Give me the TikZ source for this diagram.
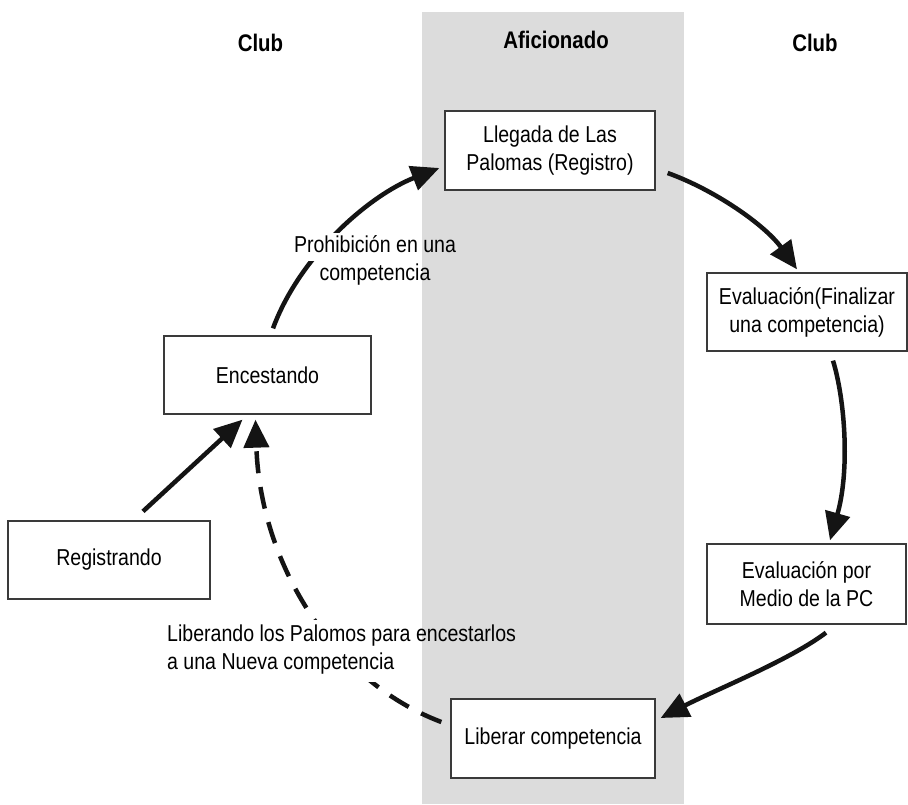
\documentclass[tikz,border=0pt]{standalone}
\usepackage{fontspec}
\setmainfont{Liberation Sans}[FakeStretch=0.85]
\usetikzlibrary{arrows.meta}
\definecolor{band}{HTML}{DCDCDC}
\definecolor{edge}{HTML}{3A3A3A}
\definecolor{ink}{HTML}{141414}
\begin{document}
\begin{tikzpicture}[x=1pt,y=-1pt,
  stage/.style={draw=edge,line width=1.3pt,fill=white,align=center,inner sep=0pt,font=\fontsize{23}{28}\selectfont},
  head/.style={anchor=base,inner sep=0pt,font=\bfseries\fontsize{24}{28}\selectfont},
  lbl/.style={inner sep=0pt,font=\fontsize{23}{28}\selectfont},
  flow/.style={draw=ink,line width=4.5pt,-{Triangle[length=28pt,width=25pt]}},
  backflow/.style={flow,dash pattern=on 22pt off 14pt}]
\useasboundingbox (0,0) rectangle (908,804);
\fill[white] (0,0) rectangle (908,804);
\fill[band] (422,12) rectangle (684,804);

% headings
\node[head] (h1) at (260.5,51) {Club};
\node[head] (h2) at (556,48) {Aficionado};
\node[head] (h3) at (815,51) {Club};

% stages
\node[stage,minimum width=210pt,minimum height=79pt] (llegada) at (550,150.5) {Llegada de Las\\Palomas (Registro)};
\node[stage,minimum width=200pt,minimum height=78pt] (evalfin) at (807,312) {Evaluación(Finalizar\\una competencia)};
\node[stage,minimum width=199pt,minimum height=80pt] (evalpc) at (806.5,584) {Evaluación por\\Medio de la PC};
\node[stage,minimum width=204pt,minimum height=79pt] (liberar) at (553,738.5) {Liberar competencia};
\node[stage,minimum width=207pt,minimum height=78pt] (encest) at (267.5,375) {Encestando};
\node[stage,minimum width=202pt,minimum height=78pt] (regist) at (109,560) {Registrando};

% connectors
\draw[flow] ([shift={(5.5,-7)}]encest.north) .. controls (300,255) and (370,195) .. ([shift={(-5,17.5)}]llegada.west);
\draw[flow] ([shift={(12,22.5)}]llegada.east) .. controls (715,190) and (765,225) .. ([shift={(-10,-3)}]evalfin.north);
\draw[flow] ([shift={(26,9)}]evalfin.south) .. controls (845,400) and (850,470) .. ([shift={(23.5,-3)}]evalpc.north);
\draw[flow] ([shift={(19.5,8)}]evalpc.south) .. controls (790,660) and (715,690) .. ([shift={(5,-20.5)}]liberar.east);
\draw[backflow] ([shift={(-9,-16.5)}]liberar.west) .. controls (330,680) and (260,560) .. ([shift={(-12,5)}]encest.south);
\draw[flow] ([shift={(34,-9)}]regist.north) -- ([shift={(-25,5)}]encest.south);

% label backgrounds
\fill[white] (288,233) rectangle (421.5,261);
\fill[white] (315,261) rectangle (421.5,287);
\fill[white] (160,620) rectangle (421.5,682);

% labels
\node[lbl,align=center] (lab1) at (375,260) {Prohibición en una\\competencia};
\node[lbl,align=left,anchor=west] (lab2) at (167,650) {Liberando los Palomos para encestarlos\\a una Nueva competencia};
\end{tikzpicture}
\end{document}
